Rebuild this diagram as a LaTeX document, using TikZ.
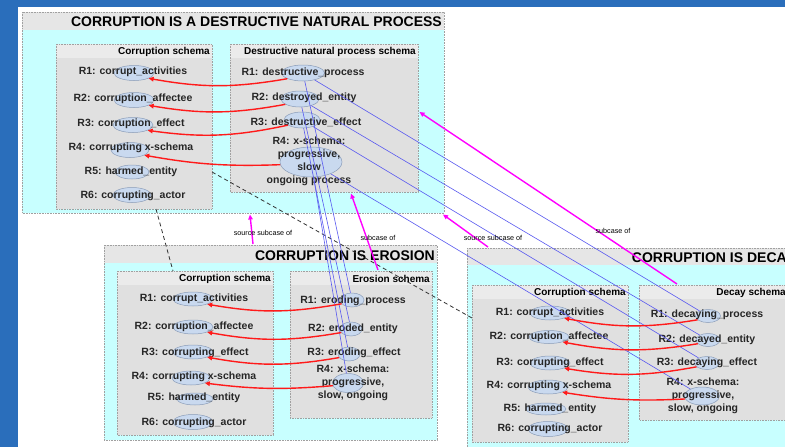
\documentclass[tikz,border=0pt]{standalone}
\usepackage{fontspec}
\setmainfont{Liberation Sans}
\usetikzlibrary{shapes.geometric,arrows.meta,calc}

\definecolor{pageblue}{HTML}{2A6EBB}
\definecolor{framecyan}{HTML}{C8FFFF}
\definecolor{bandgray}{HTML}{E6E6E6}
\definecolor{boxgray}{HTML}{E0E0E0}
\definecolor{headgray}{HTML}{EBEBEB}
\definecolor{edgegray}{HTML}{A0A0A0}
\definecolor{rolefill}{HTML}{C9D9EF}
\definecolor{roleedge}{HTML}{8A9CB8}
\definecolor{mapred}{HTML}{FF1A1A}
\definecolor{linkblue}{HTML}{5858F0}
\definecolor{submag}{HTML}{FF00FF}

\begin{document}
\begin{tikzpicture}[x=1pt,y=-1pt,
  frame/.style={fill=framecyan, anchor=north west, inner sep=0pt, outer sep=0pt},
  schemabox/.style={fill=boxgray, anchor=north west, inner sep=0pt, outer sep=0pt},
  border/.style={draw=edgegray, densely dotted, line width=0.6pt},
  bigtitle/.style={font=\fontsize{14}{16}\selectfont\bfseries, inner sep=0pt},
  boxtitle/.style={font=\fontsize{10}{12}\selectfont\bfseries, inner sep=0pt},
  role/.style={ellipse, fill=rolefill, draw=roleedge, line width=0.5pt, inner sep=0pt},
  rtext/.style={font=\fontsize{10.5}{13}\selectfont\bfseries, inner sep=0pt, align=center, text=black!85},
  tiny/.style={font=\fontsize{7.2}{8}\selectfont, inner sep=0pt},
  corr/.style={draw=mapred, line width=1.4pt, -{Triangle[length=5pt,width=4.5pt]}},
  link/.style={draw=linkblue, line width=0.6pt},
  sub/.style={draw=submag, line width=1.4pt, -{Triangle[length=5pt,width=4.5pt]}},
  corresp/.style={draw=black!80, line width=0.8pt, dash pattern=on 4pt off 3pt}
]
\useasboundingbox (0,0) rectangle (785,447);
\clip (0,0) rectangle (785,447);

% slide background
\fill[pageblue] (0,0) rectangle (785,447);
\fill[white] (18,7) rectangle (785,447);

% ---------- frames ----------
\node[frame, minimum width=422pt, minimum height=201pt] (f1) at (22,12) {};
\fill[bandgray] (f1.north west) rectangle ([yshift=-18pt]f1.north east);
\draw[border] (f1.north west) rectangle (f1.south east);
\node[bigtitle, anchor=east] (f1t) at (442,22) {CORRUPTION IS A DESTRUCTIVE NATURAL PROCESS};

\node[frame, minimum width=333pt, minimum height=195pt] (f2) at (104,245) {};
\fill[bandgray] (f2.north west) rectangle ([yshift=-18pt]f2.north east);
\draw[border] (f2.north west) rectangle (f2.south east);
\node[bigtitle, anchor=east] (f2t) at (435,256) {CORRUPTION IS EROSION};

\node[frame, minimum width=330pt, minimum height=204pt] (f3) at (467,248) {};
\fill[bandgray] (f3.north west) rectangle ([yshift=-17pt]f3.north east);
\draw[border] (f3.north west) rectangle (f3.south east);
\node[bigtitle, anchor=east] (f3t) at (795,258) {CORRUPTION IS DECAY};

% ---------- schema boxes ----------
\foreach \n/\x/\y/\w/\h in {c1/56/44/156/165, d1/230/44/188/148,
                           c2/117/271/156/164, e2/290/271/142/147,
                           c3/472/285/156/157, y3/639/285/152/135}{
  \node[schemabox, minimum width=\w pt, minimum height=\h pt] (\n) at (\x,\y) {};
  \fill[headgray] (\n.north west) rectangle ([yshift=-14pt]\n.north east);
  \draw[border] (\n.north west) rectangle (\n.south east);
}
\node[boxtitle, anchor=east] (c1t) at (210,52) {Corruption schema};
\node[boxtitle, anchor=east] (d1t) at (416,52) {Destructive natural process schema};
\node[boxtitle, anchor=east] (c2t) at (271,279) {Corruption schema};
\node[boxtitle, anchor=east] (e2t) at (430,279) {Erosion schema};
\node[boxtitle, anchor=east] (c3t) at (626,293) {Corruption schema};
\node[boxtitle, anchor=east] (y3t) at (786,293) {Decay schema};

% ---------- role ellipses ----------
\foreach \n/\x/\y/\w/\h in {
  c1r1/134/73/40/15, c1r2/134/100/40/15, c1r3/133/125/40/15, c1r4/130/150/38/15, c1r5/132/172/34/14, c1r6/132/195/38/15,
  d1r1/303/73/43/16, d1r2/300/99/38/16, d1r3/302/120/36/16, d1r4/311/162/62/30,
  c2r1/193/299/40/14, c2r2/193/327/40/14, c2r3/193/352/40/14, c2r4/191/378/38/14, c2r5/195/399/36/12, c2r6/193/422/40/15,
  e2r1/352/300/24/14, e2r2/351/329/22/14, e2r3/349/354/22/14, e2r4/348/383/31/19,
  c3r1/550/313/40/14, c3r2/549/337/40/13, c3r3/550/363/40/14, c3r4/548/387/40/14, c3r5/546/409/40/12, c3r6/548/429/40/15,
  y3r1/708/316/25/13, y3r2/708/340/24/13, y3r3/707/363/25/13, y3r4/702/396/35/18}{
  \node[role, minimum width=\w pt, minimum height=\h pt] (\n) at (\x,\y) {};
}

% ---------- role texts ----------
\node[rtext] (c1x1) at (133,72) {R1: corrupt\_activities};
\node[rtext] (c1x2) at (133,99) {R2: corruption\_affectee};
\node[rtext] (c1x3) at (131,124) {R3: corruption\_effect};
\node[rtext] (c1x4) at (131,148) {R4: corrupting x-schema};
\node[rtext] (c1x5) at (131,172) {R5: harmed\_entity};
\node[rtext] (c1x6) at (133,196) {R6: corrupting\_actor};

\node[rtext] (d1x1) at (303,73) {R1: destructive\_process};
\node[rtext] (d1x2) at (304,98) {R2: destroyed\_entity};
\node[rtext] (d1x3) at (306,122) {R3: destructive\_effect};
\node[rtext] (d1x4) at (309,161.5) {R4: x-schema:\\progressive,\\slow\\ongoing process};

\node[rtext] (c2x1) at (194,299) {R1: corrupt\_activities};
\node[rtext] (c2x2) at (194,327) {R2: corruption\_affectee};
\node[rtext] (c2x3) at (195,353) {R3: corrupting\_effect};
\node[rtext] (c2x4) at (194,377) {R4: corrupting x-schema};
\node[rtext] (c2x5) at (194,398) {R5: harmed\_entity};
\node[rtext] (c2x6) at (194,423) {R6: corrupting\_actor};

\node[rtext] (e2x1) at (353,301) {R1: eroding\_process};
\node[rtext] (e2x2) at (353,329) {R2: eroded\_entity};
\node[rtext] (e2x3) at (354,353) {R3: eroding\_effect};
\node[rtext] (e2x4) at (353,382.5) {R4: x-schema:\\progressive,\\slow, ongoing};

\node[rtext] (c3x1) at (550,313) {R1: corrupt\_activities};
\node[rtext] (c3x2) at (549,337) {R2: corruption\_affectee};
\node[rtext] (c3x3) at (550,363) {R3: corrupting\_effect};
\node[rtext] (c3x4) at (549,386) {R4: corrupting x-schema};
\node[rtext] (c3x5) at (550,409) {R5: harmed\_entity};
\node[rtext] (c3x6) at (550,429) {R6: corrupting\_actor};

\node[rtext] (y3x1) at (707,315) {R1: decaying\_process};
\node[rtext] (y3x2) at (707,340) {R2: decayed\_entity};
\node[rtext] (y3x3) at (707,363) {R3: decaying\_effect};
\node[rtext] (y3x4) at (703,396) {R4: x-schema:\\progressive,\\slow, ongoing};

% ---------- dashed correspondences between corruption schemas ----------
\draw[corresp] ([xshift=100pt]c1.south west) -- ([xshift=56pt]c2.north west);
\draw[corresp] ([yshift=-128pt]c1.north east) -- ([yshift=-33pt]c3.north west);

% ---------- role bindings (blue) ----------
\foreach \i in {1,2,3,4}{
  \draw[link] (d1r\i) -- (e2r\i);
  \draw[link] (d1r\i) -- (y3r\i);
}

% ---------- metaphor mappings (red) ----------
\foreach \i in {1,2,3}{
  \draw[corr] (d1r\i.200) to[bend left=10] (c1r\i.-20);
  \draw[corr] (e2r\i.200) to[bend left=10] (c2r\i.-20);
  \draw[corr] (y3r\i.200) to[bend left=10] (c3r\i.-20);
}
\draw[corr] (d1r4.185) to[bend left=6] (c1r4.-20);
\draw[corr] (e2r4.190) to[bend left=6] (c2r4.-20);
\draw[corr] (y3r4.190) to[bend left=6] (c3r4.-20);

% ---------- subcase relations (magenta) ----------
\draw[sub] ([xshift=149pt,yshift=1pt]f2.north west) -- ([xshift=228pt,yshift=-1.5pt]f1.south west);
\draw[sub] ([xshift=88pt,yshift=1pt]e2.north west) -- ([xshift=121pt,yshift=-1.5pt]d1.south west);
\draw[sub] ([xshift=21pt,yshift=1pt]f3.north west) -- ([xshift=-1pt,yshift=-1.5pt]f1.south east);
\draw[sub] ([xshift=38pt,yshift=1pt]y3.north west) -- ([xshift=1.5pt,yshift=-68pt]d1.north east);

\node[tiny] (l1) at (263,233) {source subcase of};
\node[tiny] (l2) at (378,238) {subcase of};
\node[tiny] (l3) at (493,238) {source subcase of};
\node[tiny] (l4) at (613,231) {subcase of};
\end{tikzpicture}
\end{document}
